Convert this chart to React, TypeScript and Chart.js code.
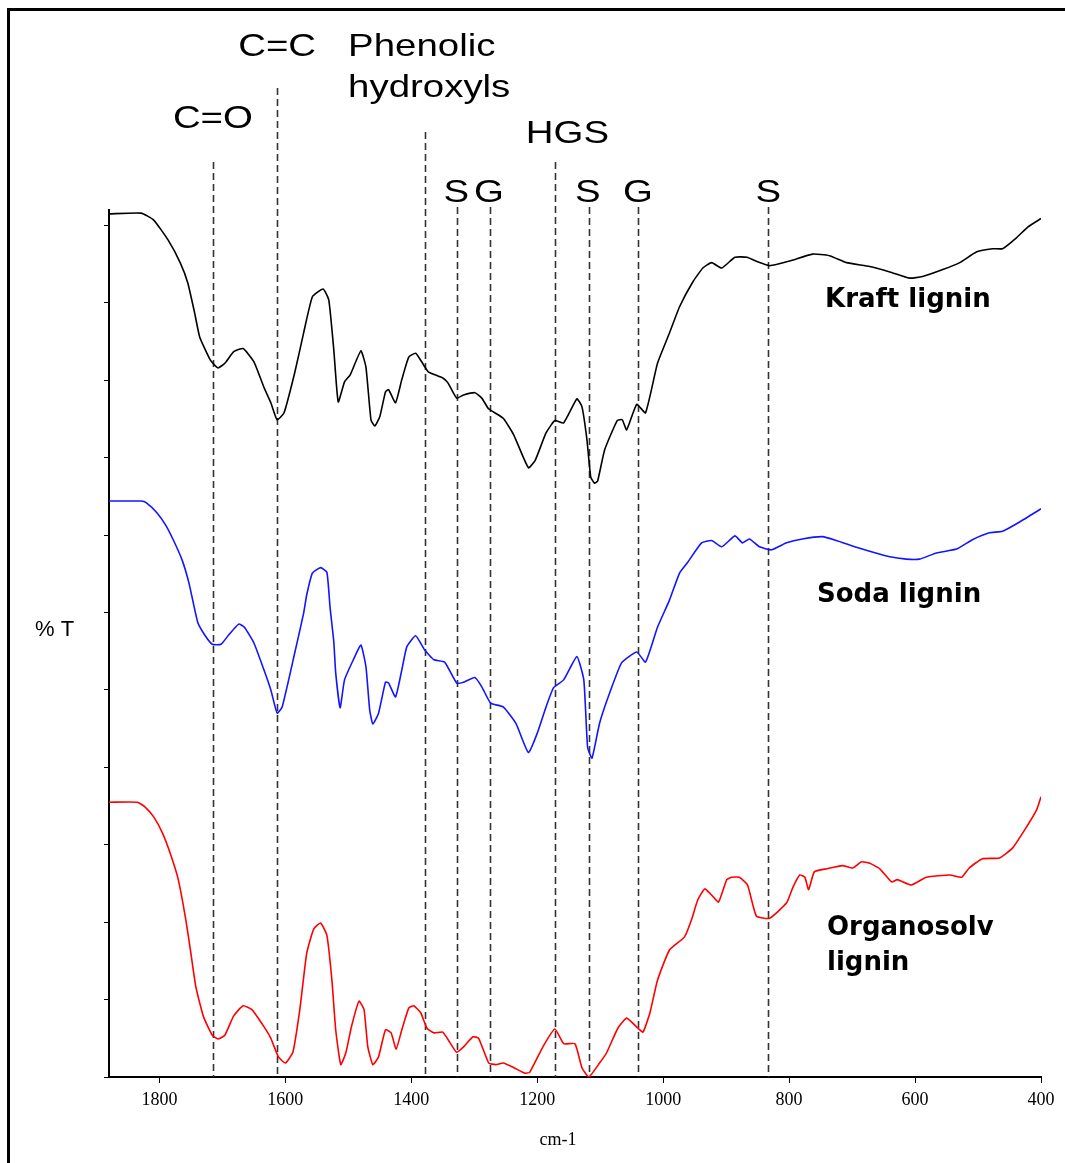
import React, { useEffect, useRef } from "react";
import { Chart, registerables } from "chart.js";

Chart.register(...registerables);

// ---------- data ----------
const xTicks = [1800, 1600, 1400, 1200, 1000, 800, 600, 400];
const yTicks = [0, 10, 20, 30, 40, 50, 60, 70, 80, 90, 100, 110];

const seriesNames = ["Kraft lignin", "Soda lignin", "Organosolv lignin"];

const kraftWn = [1880, 1829, 1809, 1786, 1767, 1755, 1744, 1736, 1719, 1707, 1696, 1682, 1667, 1650, 1634, 1623, 1613, 1602, 1585, 1571, 1557, 1540, 1531, 1523, 1516, 1506, 1497, 1480, 1472, 1464, 1458, 1450, 1441, 1436, 1425, 1415, 1404, 1393, 1382, 1373, 1350, 1342, 1328, 1317, 1299, 1288, 1277, 1254, 1237, 1214, 1203, 1186, 1172, 1158, 1137, 1129, 1121, 1115, 1109, 1104, 1093, 1073, 1065, 1058, 1042, 1028, 1009, 990, 974, 953, 937, 923, 907, 886, 867, 850, 831, 799, 763, 736, 709, 672, 640, 609, 588, 556, 529, 502, 477, 461, 439, 421, 400];
const kraftT = [111.5, 111.6, 110.7, 108.1, 105.2, 102.6, 98.7, 95.6, 92.6, 91.6, 92.2, 93.7, 94.1, 92.4, 89.1, 87.1, 84.9, 85.8, 91.0, 96.1, 100.8, 101.8, 100.4, 93.9, 87.2, 89.8, 90.7, 93.8, 91.7, 84.9, 84.1, 85.3, 88.5, 88.8, 87.1, 90.1, 93.0, 93.5, 92.2, 91.1, 90.3, 89.7, 87.7, 88.1, 88.4, 87.7, 86.3, 85.1, 82.9, 78.7, 79.7, 83.2, 84.8, 84.5, 87.6, 86.6, 82.3, 77.5, 76.7, 77.0, 81.0, 84.8, 84.9, 83.6, 86.9, 85.8, 92.2, 96.1, 99.5, 102.7, 104.5, 105.2, 104.5, 105.9, 105.9, 105.3, 104.8, 105.4, 106.3, 106.1, 105.2, 104.7, 104.0, 103.2, 103.4, 104.3, 105.2, 106.6, 107.0, 107.0, 108.4, 109.8, 110.9];

const sodaWn = [1880, 1829, 1821, 1804, 1790, 1778, 1764, 1753, 1739, 1728, 1716, 1702, 1690, 1674, 1665, 1650, 1634, 1623, 1613, 1605, 1585, 1571, 1566, 1557, 1544, 1534, 1529, 1523, 1520, 1513, 1506, 1492, 1480, 1472, 1466, 1461, 1452, 1441, 1436, 1425, 1415, 1407, 1393, 1379, 1364, 1347, 1328, 1317, 1299, 1288, 1274, 1254, 1234, 1214, 1200, 1186, 1174, 1158, 1137, 1126, 1120, 1113, 1101, 1085, 1066, 1042, 1028, 1009, 990, 974, 961, 939, 923, 907, 886, 874, 863, 847, 828, 804, 779, 747, 725, 688, 640, 614, 593, 566, 534, 509, 482, 461, 434, 400];
const sodaT = [74.4, 74.4, 74.2, 72.9, 71.3, 69.4, 66.8, 63.8, 58.7, 57.1, 55.9, 55.9, 57.1, 58.5, 58.1, 56.1, 52.6, 50.0, 47.0, 47.8, 54.8, 59.9, 62.3, 65.1, 65.8, 65.2, 60.7, 56.2, 52.2, 47.7, 51.3, 53.9, 55.8, 53.0, 47.4, 45.6, 47.0, 51.0, 50.9, 49.1, 52.6, 55.6, 57.0, 55.2, 53.9, 53.6, 50.9, 51.0, 51.6, 50.4, 48.3, 47.8, 45.7, 41.9, 44.4, 47.8, 50.3, 51.3, 54.3, 51.3, 42.6, 41.2, 45.7, 49.6, 53.5, 54.9, 53.6, 58.1, 61.6, 65.1, 66.5, 69.0, 69.3, 68.5, 69.9, 69.0, 69.5, 68.5, 68.1, 69.0, 69.5, 69.8, 69.3, 68.3, 67.2, 66.9, 66.9, 67.7, 68.2, 69.4, 70.3, 70.5, 71.7, 73.4];

const organoWn = [1880, 1835, 1823, 1809, 1795, 1782, 1770, 1758, 1750, 1742, 1730, 1716, 1707, 1696, 1682, 1667, 1653, 1634, 1623, 1611, 1600, 1588, 1577, 1566, 1555, 1544, 1534, 1526, 1520, 1512, 1504, 1495, 1483, 1475, 1469, 1461, 1452, 1441, 1432, 1424, 1415, 1404, 1396, 1385, 1375, 1364, 1350, 1339, 1328, 1317, 1302, 1293, 1277, 1266, 1254, 1237, 1220, 1212, 1191, 1172, 1158, 1140, 1129, 1118, 1101, 1090, 1072, 1058, 1040, 1032, 1021, 1009, 990, 966, 955, 945, 934, 923, 912, 899, 891, 879, 866, 852, 831, 804, 794, 783, 775, 769, 760, 740, 715, 699, 685, 672, 656, 637, 628, 606, 582, 545, 526, 514, 493, 466, 445, 423, 407, 400];
const organoT = [35.5, 35.5, 34.9, 33.6, 31.5, 28.7, 25.5, 20.3, 16.0, 11.6, 7.8, 5.4, 4.9, 5.4, 7.9, 9.2, 8.7, 6.5, 5.0, 2.6, 1.8, 3.2, 8.7, 16.0, 19.1, 19.9, 18.3, 12.5, 6.1, 1.6, 3.1, 6.5, 9.8, 8.7, 3.9, 1.6, 2.6, 6.1, 5.7, 3.6, 6.1, 8.9, 9.2, 8.3, 6.3, 5.7, 5.8, 4.5, 3.2, 3.9, 5.2, 5.0, 1.8, 1.6, 1.8, 1.2, 0.5, 0.6, 3.9, 6.2, 4.3, 4.3, 1.2, 0.0, 1.8, 3.1, 6.3, 7.6, 6.3, 5.8, 8.3, 12.5, 16.4, 18.1, 20.3, 22.9, 24.3, 23.5, 22.6, 25.5, 25.8, 25.8, 24.8, 20.8, 20.5, 22.5, 24.5, 26.1, 25.8, 24.2, 26.5, 26.9, 27.3, 27.0, 27.8, 27.6, 26.9, 25.2, 25.5, 24.8, 25.8, 26.1, 25.8, 27.0, 28.2, 28.3, 29.6, 32.3, 34.5, 36.2];

// assigned bands (wavenumber, cm-1) and their labels
const bandWn = [1715, 1613, 1378, 1327, 1275, 1171, 1118, 1040, 833];
const bandLabels = ["C=O", "C=C", "Phenolic\nhydroxyls", "S", "G", "HGS", "S", "G", "S"];

const yAxisLabel = "% T";
const xAxisLabel = "cm-1";

// ---------- styles ----------
const seriesColors = ["#000000", "#1414ff", "#ff0000"];
// per band: top of the dashed line (px), label baseline (px), label x offset (px), alignment
const bandStyle = [
  { top: 162, base: [128], dx: 0, align: "center" },
  { top: 88, base: [56], dx: 0, align: "center" },
  { top: 132, base: [56, 97], dx: -77, align: "left" },
  { top: 207, base: [202], dx: -1, align: "center" },
  { top: 207, base: [202], dx: -1, align: "center" },
  { top: 162, base: [143], dx: 12, align: "center" },
  { top: 207, base: [202], dx: -1, align: "center" },
  { top: 207, base: [202], dx: 0, align: "center" },
  { top: 207, base: [202], dx: 0, align: "center" },
];
const seriesLabelStyle = [
  { x: 825, base: [307] },
  { x: 817, base: [602] },
  { x: 827, base: [935, 970] },
];
const seriesLabelLines = [["Kraft lignin"], ["Soda lignin"], ["Organosolv", "lignin"]];

function drawText(
  ctx: CanvasRenderingContext2D,
  text: string,
  x: number,
  y: number,
  font: string,
  align: CanvasTextAlign,
  scaleX: number
) {
  ctx.save();
  ctx.font = font;
  ctx.fillStyle = "#000";
  ctx.textAlign = align;
  ctx.textBaseline = "alphabetic";
  ctx.translate(x, y);
  ctx.scale(scaleX, 1);
  ctx.fillText(text, 0, 0);
  ctx.restore();
}

const annotationPlugin = {
  id: "bandAnnotations",
  beforeDatasetsDraw(chart: any) {
    const { ctx, scales } = chart;
    const xs = scales.x;
    const ys = scales.y;
    ctx.save();
    ctx.setLineDash([7, 4]);
    ctx.strokeStyle = "#333";
    ctx.lineWidth = 1.6;
    bandWn.forEach((wn, i) => {
      const px = Math.round(xs.getPixelForValue(wn)) + 0.5;
      ctx.beginPath();
      ctx.moveTo(px, bandStyle[i].top);
      ctx.lineTo(px, ys.getPixelForValue(0));
      ctx.stroke();
    });
    ctx.restore();
  },
  afterDraw(chart: any) {
    const { ctx, scales, chartArea } = chart;
    const xs = scales.x;
    const labelFont = "32px 'Liberation Sans', Arial, sans-serif";
    bandWn.forEach((wn, i) => {
      const st = bandStyle[i];
      const px = xs.getPixelForValue(wn) + st.dx;
      const lines = bandLabels[i].split("\n");
      lines.forEach((ln, j) => {
        drawText(ctx, ln, px, st.base[j], labelFont, st.align as CanvasTextAlign, 1.2);
      });
    });
    const seriesFont = "bold 26px 'DejaVu Sans', Verdana, sans-serif";
    seriesLabelLines.forEach((lines, i) => {
      const st = seriesLabelStyle[i];
      lines.forEach((ln, j) => drawText(ctx, ln, st.x, st.base[j], seriesFont, "left", 1));
    });
    drawText(ctx, yAxisLabel, 35, 636, "22px 'Liberation Sans', Arial, sans-serif", "left", 1);
    drawText(
      ctx,
      xAxisLabel,
      (chartArea.left + chartArea.right) / 2 - 17,
      1145,
      "18px 'Liberation Serif', 'Times New Roman', serif",
      "center",
      1
    );
  },
};

export default function App() {
  const canvasRef = useRef<HTMLCanvasElement | null>(null);

  useEffect(() => {
    const canvas = canvasRef.current;
    if (!canvas) return;
    const series = [
      { wn: kraftWn, t: kraftT },
      { wn: sodaWn, t: sodaT },
      { wn: organoWn, t: organoT },
    ];
    const chart = new Chart(canvas, {
      type: "line",
      data: {
        datasets: series.map((s, i) => ({
          label: seriesNames[i],
          data: s.wn.map((x, k) => ({ x, y: s.t[k] })),
          borderColor: seriesColors[i],
          borderWidth: 1.6,
          pointRadius: 0,
          tension: 0.15,
          fill: false,
        })),
      },
      options: {
        responsive: false,
        animation: false,
        devicePixelRatio: 1,
        layout: { padding: { left: 99, top: 210, right: 24, bottom: 16 } },
        plugins: { legend: { display: false }, tooltip: { enabled: false } },
        scales: {
          x: {
            type: "linear",
            reverse: true,
            min: 400,
            max: 1880,
            afterBuildTicks: (s: any) => {
              s.ticks = xTicks.map((v) => ({ value: v }));
            },
            afterFit: (s: any) => {
              s.height = 70;
            },
            grid: { drawOnChartArea: false, drawTicks: true, tickLength: 6, color: "#000", lineWidth: 1 },
            border: { display: true, color: "#000", width: 2 },
            ticks: {
              autoSkip: false,
              maxRotation: 0,
              minRotation: 0,
              padding: 6,
              color: "#000",
              font: { family: "'Liberation Serif', 'Times New Roman', serif", size: 18 },
              callback: (v: any) => String(v),
            },
          },
          y: {
            type: "linear",
            min: 0,
            max: 112,
            afterBuildTicks: (s: any) => {
              s.ticks = yTicks.map((v) => ({ value: v }));
            },
            afterFit: (s: any) => {
              s.width = 10;
            },
            grid: { drawOnChartArea: false, drawTicks: true, tickLength: 5, color: "#000", lineWidth: 1 },
            border: { display: true, color: "#000", width: 2 },
            ticks: { display: false },
          },
        },
      },
      plugins: [annotationPlugin],
    } as any);
    return () => chart.destroy();
  }, []);

  return (
    <div
      style={{
        position: "absolute",
        left: 0,
        top: 0,
        width: 1065,
        height: 1163,
        background: "#fff",
        overflow: "hidden",
      }}
    >
      <div
        style={{
          position: "absolute",
          left: 7,
          top: 8,
          width: 1200,
          height: 1300,
          border: "3px solid #000",
        }}
      />
      <canvas
        ref={canvasRef}
        width={1065}
        height={1163}
        style={{ position: "absolute", left: 0, top: 0 }}
      />
    </div>
  );
}
